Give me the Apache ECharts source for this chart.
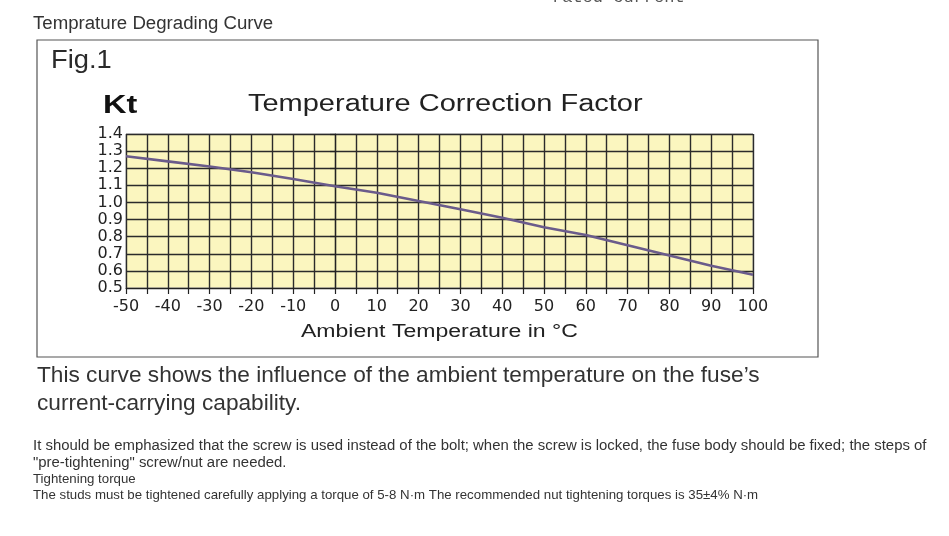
<!DOCTYPE html>
<html>
<head>
    <meta http-equiv="Content-Type" content="text/html; charset=utf-8" />
    <title>Temperature Correction Factor</title>
    <style>
        html, body { margin: 0; padding: 0; background: #fff; }
        #main { width: 949px; height: 536px; }
    </style>
</head>
<body>
    <div id="main"></div>
</body>
<script src="https://cdn.jsdelivr.net/npm/echarts@6/dist/echarts.min.js"></script>
<script>
    // readings, ambient temperature (°C) vs Kt
    var temps = [-50, -40, -30, -20, -10, 0, 10, 20, 30, 40, 50, 60, 70, 80, 90, 100];
    var kt = [1.27, 1.24, 1.21, 1.176, 1.137, 1.095, 1.057, 1.008, 0.96, 0.91, 0.855, 0.81, 0.75, 0.69, 0.63, 0.577];
    var xLimits = [-50, 100];
    var yLimits = [0.5, 1.4];

    var points = [];
    for (var i = 0; i < temps.length; i++) {
        points.push([temps[i], kt[i]]);
    }

    var sans = 'Liberation Sans, Arial, sans-serif';
    var wide = 'DejaVu Sans, Verdana, sans-serif';
    var gridLine = { color: '#2b2b2b', width: 1.4 };

    // left aligned text, vertically centred on y, optionally stretched sideways
    function label(x, y, text, font, fill, sx) {
        return {
            type: 'text', x: x, y: y, scaleX: sx || 1,
            style: {
                text: text, font: font, fill: fill,
                align: 'left', verticalAlign: 'middle',
                textAlign: 'left', textVerticalAlign: 'middle'
            }
        };
    }

    var chart = echarts.init(document.getElementById('main'), null, { renderer: 'canvas' });
    var option = {
        animation: false,
        backgroundColor: '#fff',
        grid: {
            left: 126, right: 196, top: 134, bottom: 248,
            show: true,
            backgroundColor: '#fbf6bf',
            borderColor: '#b5b5b5',
            borderWidth: 1
        },
        xAxis: {
            type: 'value',
            min: xLimits[0], max: xLimits[1], interval: 10,
            axisLine: { show: true, lineStyle: { color: '#222', width: 1.2 } },
            axisTick: { show: true, length: 6, lineStyle: { color: '#222', width: 1.2 } },
            minorTick: { show: true, splitNumber: 2, length: 6, lineStyle: { color: '#222', width: 1.2 } },
            splitLine: { show: true, lineStyle: gridLine },
            minorSplitLine: { show: true, lineStyle: gridLine },
            axisLabel: { color: '#222', fontSize: 16, fontFamily: wide, margin: 11 }
        },
        yAxis: {
            type: 'value',
            min: yLimits[0], max: yLimits[1], interval: 0.1,
            axisLine: { show: true, lineStyle: { color: '#222', width: 1.2 } },
            axisTick: { show: true, length: 5, lineStyle: { color: '#222', width: 1.2 } },
            splitLine: { show: true, lineStyle: gridLine },
            axisLabel: {
                color: '#222', fontSize: 16, fontFamily: wide, margin: 3,
                formatter: function (v) { return v.toFixed(1); }
            }
        },
        series: [{
            type: 'line',
            data: points,
            showSymbol: false,
            smooth: false,
            lineStyle: { color: '#6a5b8b', width: 2.6 },
            z: 5
        }],
        graphic: [
            {
                type: 'text', left: 552, top: -11,
                style: { text: 'rated current', font: '17px "Liberation Mono", "Courier New", monospace', fill: '#555' }
            },
            label(33, 24, 'Temprature Degrading Curve', '18px ' + sans, '#333', 1.035),
            {
                type: 'rect', z: -1,
                shape: { x: 37, y: 40, width: 781, height: 317 },
                style: { fill: 'none', stroke: '#555', lineWidth: 1.2 }
            },
            label(51, 61, 'Fig.1', '26px ' + sans, '#2a2a2a', 1.05),
            label(103, 106, 'Kt', 'bold 25px ' + sans, '#111', 1.3),
            label(248, 105, 'Temperature Correction Factor', '23px ' + sans, '#222', 1.26),
            label(301, 332, 'Ambient Temperature in \u00B0C', '18px ' + sans, '#222', 1.28),
            label(37, 376, 'This curve shows the influence of the ambient temperature on the fuse\u2019s', '22px ' + sans, '#333', 1.03),
            label(37, 404, 'current-carrying capability.', '22px ' + sans, '#333', 1.03),
            label(33, 446, 'It should be emphasized that the screw is used instead of the bolt; when the screw is locked, the fuse body should be fixed; the steps of', '14px ' + sans, '#333', 1.065),
            label(33, 463, '"pre-tightening" screw/nut are needed.', '14px ' + sans, '#333', 1.065),
            label(33, 479, 'Tightening torque', '13px ' + sans, '#333', 1.02),
            label(33, 495, 'The studs must be tightened carefully applying a torque of 5-8 N\u00B7m The recommended nut tightening torques is 35\u00B14% N\u00B7m', '13px ' + sans, '#333', 1.02)
        ]
    };
    chart.setOption(option);
</script>
</html>
